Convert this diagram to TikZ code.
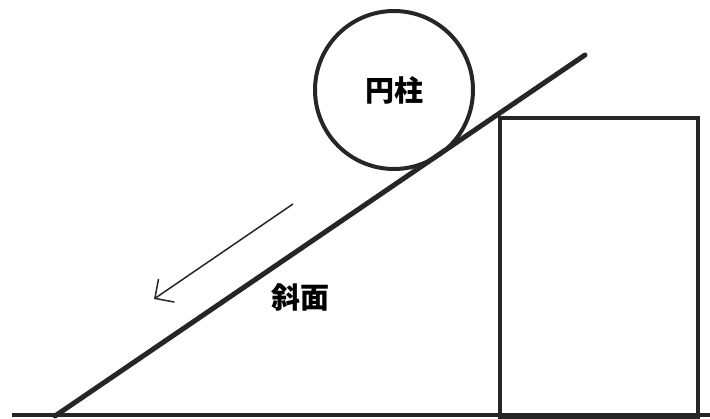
\documentclass[tikz,border=0pt]{standalone}
\usepackage{fontspec}
\newfontfamily\cjk{Noto Sans CJK JP}
\usetikzlibrary{arrows.meta}
\begin{document}
\begin{tikzpicture}[x=1pt,y=-1pt,
  thick line/.style={line width=4pt,draw=black!85},
  lbl/.style={font=\cjk\bfseries\fontsize{29pt}{30pt}\selectfont,inner sep=0pt},
  motion/.style={line width=1.5pt,draw=black!85,-{Straight Barb[length=14pt,width=28pt,line width=1.5pt]}}]
\useasboundingbox (0,0) rectangle (710,419);
% ground
\coordinate (gl) at (12,415);
\coordinate (gr) at (710,415);
\draw[thick line] (gl) -- (gr);
% incline
\coordinate (slopeLow) at (55,416);
\coordinate (slopeHigh) at (585,55);
\draw[line width=5pt,draw=black!85,line cap=round] (slopeLow) -- (slopeHigh);
% block
\node[thick line, rectangle, minimum width=198pt, minimum height=299pt, anchor=north west, inner sep=0pt] (block) at (498,116) {};
% cylinder
\node[thick line, circle, minimum size=158pt, inner sep=0pt] (cyl) at (394,90) {};
\node[lbl] (cylLabel) at (cyl.center) {円柱};
% slope label
\node[lbl] (slopeLabel) at (300,298) {斜面};
% motion arrow
\coordinate (arrStart) at (293,204);
\coordinate (arrEnd) at (154,299);
\draw[motion] (arrStart) -- (arrEnd);
\end{tikzpicture}
\end{document}
